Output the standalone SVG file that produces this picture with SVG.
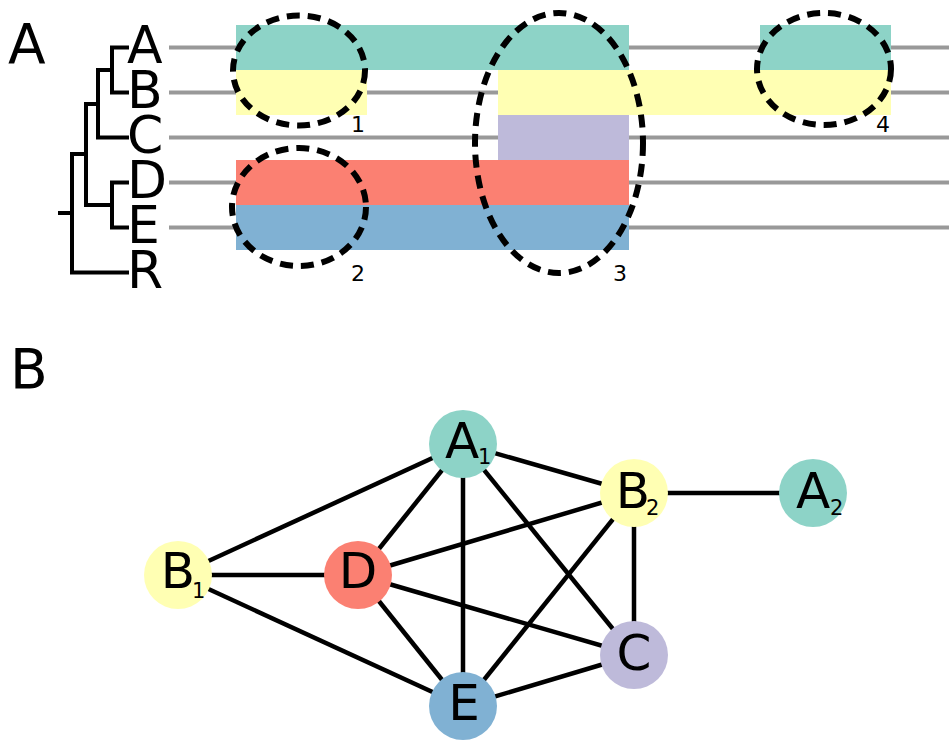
<svg xmlns="http://www.w3.org/2000/svg" width="949" height="740" viewBox="0 0 949 740">
  <style>
    text { font-family: "DejaVu Sans", "Liberation Sans", sans-serif; fill: #000; }
    .panel { font-size: 55px; }
    .leaf { font-size: 52px; }
    .track { stroke: #999; stroke-width: 4; }
    .branch { stroke: #000; stroke-width: 4; fill: none; stroke-linecap: square; }
    .group { fill: none; stroke: #000; stroke-width: 6; stroke-dasharray: 13 8; }
    .num { font-size: 22px; }
    .edge { stroke: #000; stroke-width: 4.5; }
    .node-label { font-size: 50px; text-anchor: middle; }
    .sub { font-size: 21px; }
    .teal { fill: #8dd3c7; }
    .yellow { fill: #ffffb3; }
    .purple { fill: #bebada; }
    .red { fill: #fb8072; }
    .blue { fill: #80b1d3; }
  </style>

  <!-- Panel A -->
  <text class="panel" x="8" y="63">A</text>

  <!-- species tree -->
  <g id="tree">
    <path class="branch" d="M112 47.5H127M112 92.5H127M112 47.5V92.5M98 70H112M98 137.5H127M98 70V137.5M86 104H98M112 182.5H127M112 227.5H127M112 182.5V227.5M86 205H112M86 104V205M72 154H86M72 272.5H127M72 154V272.5M60 213H72"/>
    <text class="leaf" x="127" y="63">A</text>
    <text class="leaf" x="127" y="108">B</text>
    <text class="leaf" x="127" y="153">C</text>
    <text class="leaf" x="127" y="198">D</text>
    <text class="leaf" x="127" y="243">E</text>
    <text class="leaf" x="127" y="288">R</text>
  </g>

  <!-- tracks -->
  <g id="tracks">
    <line class="track" x1="169" y1="47.5" x2="949" y2="47.5"/>
    <line class="track" x1="169" y1="92.5" x2="949" y2="92.5"/>
    <line class="track" x1="169" y1="137.5" x2="949" y2="137.5"/>
    <line class="track" x1="169" y1="182.5" x2="949" y2="182.5"/>
    <line class="track" x1="169" y1="227.5" x2="949" y2="227.5"/>
  </g>

  <!-- presence bars -->
  <g id="bars">
    <rect class="teal" x="236" y="25" width="393" height="45"/>
    <rect class="teal" x="760" y="25" width="131" height="45"/>
    <rect class="yellow" x="236" y="70" width="131" height="45"/>
    <rect class="yellow" x="498" y="70" width="393" height="45"/>
    <rect class="purple" x="498" y="115" width="131" height="45"/>
    <rect class="red" x="236" y="160" width="393" height="45"/>
    <rect class="blue" x="236" y="205" width="393" height="45"/>
  </g>

  <!-- dashed groupings -->
  <g id="groups">
    <ellipse class="group" cx="299" cy="70.5" rx="66" ry="55"/>
    <text class="num" x="351" y="132">1</text>
    <ellipse class="group" cx="299" cy="207" rx="67" ry="59"/>
    <text class="num" x="351" y="281">2</text>
    <ellipse class="group" cx="559" cy="143" rx="84" ry="130"/>
    <text class="num" x="613" y="281">3</text>
    <ellipse class="group" cx="824" cy="69" rx="67" ry="56"/>
    <text class="num" x="876" y="132">4</text>
  </g>

  <!-- Panel B -->
  <text class="panel" x="10" y="388">B</text>

  <g id="edges">
    <line class="edge" x1="178" y1="575" x2="463" y2="444"/>
    <line class="edge" x1="178" y1="575" x2="358" y2="575"/>
    <line class="edge" x1="178" y1="575" x2="463" y2="706"/>
    <line class="edge" x1="358" y1="575" x2="463" y2="444"/>
    <line class="edge" x1="358" y1="575" x2="634" y2="493"/>
    <line class="edge" x1="358" y1="575" x2="634" y2="655"/>
    <line class="edge" x1="358" y1="575" x2="463" y2="706"/>
    <line class="edge" x1="463" y1="444" x2="463" y2="706"/>
    <line class="edge" x1="463" y1="444" x2="634" y2="493"/>
    <line class="edge" x1="463" y1="444" x2="634" y2="655"/>
    <line class="edge" x1="634" y1="493" x2="463" y2="706"/>
    <line class="edge" x1="634" y1="493" x2="634" y2="655"/>
    <line class="edge" x1="634" y1="493" x2="813" y2="493"/>
    <line class="edge" x1="634" y1="655" x2="463" y2="706"/>
  </g>

  <g id="node-B1">
    <circle class="yellow" cx="178" cy="575" r="34"/>
    <text class="node-label" x="178" y="588">B</text>
    <text class="sub" x="192" y="598">1</text>
  </g>
  <g id="node-D">
    <circle class="red" cx="358" cy="575" r="34"/>
    <text class="node-label" x="358" y="588">D</text>
  </g>
  <g id="node-A1">
    <circle class="teal" cx="463" cy="444" r="34"/>
    <text class="node-label" x="462" y="458">A</text>
    <text class="sub" x="478" y="464">1</text>
  </g>
  <g id="node-E">
    <circle class="blue" cx="463" cy="706" r="34"/>
    <text class="node-label" x="464" y="720">E</text>
  </g>
  <g id="node-B2">
    <circle class="yellow" cx="634" cy="493" r="34"/>
    <text class="node-label" x="633" y="508">B</text>
    <text class="sub" x="646" y="515">2</text>
  </g>
  <g id="node-A2">
    <circle class="teal" cx="813" cy="493" r="34"/>
    <text class="node-label" x="813" y="508">A</text>
    <text class="sub" x="830" y="515">2</text>
  </g>
  <g id="node-C">
    <circle class="purple" cx="634" cy="655" r="34"/>
    <text class="node-label" x="634" y="670">C</text>
  </g>
</svg>
